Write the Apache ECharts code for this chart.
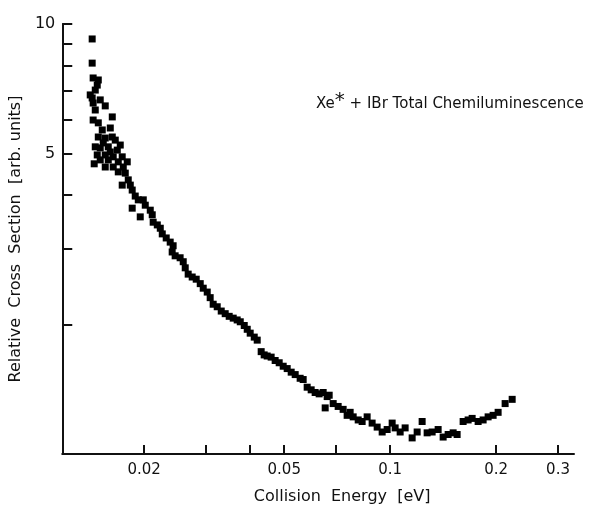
<!DOCTYPE html>
<html>
<head>
<meta charset="utf-8">
<script src="https://cdn.jsdelivr.net/npm/echarts@6/dist/echarts.min.js"></script>
<style>
html, body { margin: 0; padding: 0; background: #fff; }
#chart { width: 594px; height: 510px; }
</style>
</head>
<body>
<div id="chart"></div>
<script>
// collision energy [eV] / relative cross section
// near threshold (dense cluster)
var nearX = [0.01423, 0.01423, 0.01432, 0.01481, 0.01471, 0.01452, 0.01405, 0.01423, 0.01432, 0.0150,
	0.0155, 0.01452, 0.01623, 0.01432, 0.01481, 0.01602, 0.0152, 0.01481, 0.0155, 0.01623,
	0.0153, 0.01655, 0.01452, 0.0150, 0.01581, 0.01677, 0.0171, 0.01602, 0.01471, 0.0155,
	0.01633, 0.01732, 0.0150, 0.01581, 0.01688, 0.0179, 0.01442, 0.0155, 0.01633, 0.01744];
var nearY = [9.23, 8.11, 7.49, 7.41, 7.21, 7.02, 6.84, 6.73, 6.55, 6.66,
	6.45, 6.31, 6.08, 5.98, 5.89, 5.73, 5.67, 5.46, 5.43, 5.46,
	5.29, 5.37, 5.18, 5.15, 5.18, 5.09, 5.23, 5.04, 4.96, 4.96,
	4.91, 4.91, 4.83, 4.83, 4.78, 4.78, 4.73, 4.65, 4.65, 4.65];

// falling part
var fallX = [0.01688, 0.01767, 0.01802, 0.01732, 0.01826, 0.01849, 0.01886, 0.01924, 0.01988, 0.01849,
	0.01949, 0.02014, 0.02081, 0.02108, 0.02121, 0.02179, 0.02222, 0.02251, 0.0231, 0.02371,
	0.02417, 0.02402, 0.02449, 0.0253, 0.02582, 0.02616, 0.02667, 0.02738, 0.02811, 0.02886,
	0.02943, 0.03021, 0.0308, 0.03141, 0.03225, 0.03311, 0.03398, 0.03488, 0.03581, 0.03675,
	0.0375, 0.03849, 0.03925, 0.04002, 0.04109, 0.0419, 0.0430, 0.04385, 0.04472, 0.0459,
	0.04712, 0.04838, 0.04966, 0.05098, 0.05233, 0.05372, 0.05549, 0.0566, 0.0581, 0.05964,
	0.06121, 0.06284, 0.06451, 0.06622, 0.06537, 0.0671, 0.06888, 0.07116, 0.07352, 0.07547,
	0.07697, 0.07851, 0.08113, 0.08325, 0.08602, 0.08887, 0.09185, 0.09491, 0.09806];
var fallY = [4.53, 4.50, 4.34, 4.22, 4.22, 4.11, 3.98, 3.90, 3.90, 3.73,
	3.56, 3.79, 3.69, 3.60, 3.46, 3.41, 3.35, 3.25, 3.18, 3.11,
	3.05, 2.95, 2.89, 2.86, 2.80, 2.71, 2.62, 2.58, 2.55, 2.49,
	2.43, 2.38, 2.31, 2.23, 2.20, 2.15, 2.12, 2.09, 2.07, 2.05,
	2.03, 1.99, 1.95, 1.91, 1.87, 1.84, 1.73, 1.70, 1.69, 1.68,
	1.65, 1.63, 1.60, 1.58, 1.55, 1.53, 1.50, 1.49, 1.43, 1.41,
	1.39, 1.38, 1.39, 1.36, 1.28, 1.37, 1.31, 1.29, 1.27, 1.23,
	1.25, 1.22, 1.20, 1.19, 1.22, 1.18, 1.155, 1.125, 1.14];

// minimum and rise
var riseX = [0.10132, 0.10332, 0.10676, 0.1103, 0.11548, 0.11932, 0.12328, 0.12738, 0.13162, 0.13689,
	0.14144, 0.14614, 0.15101, 0.155, 0.1612, 0.16656, 0.171, 0.17783, 0.18374, 0.18985,
	0.19616, 0.20268, 0.21219, 0.2222];
var riseY = [1.18, 1.15, 1.125, 1.15, 1.09, 1.125, 1.19, 1.12, 1.125, 1.14,
	1.095, 1.11, 1.12, 1.11, 1.19, 1.20, 1.21, 1.19, 1.20, 1.22,
	1.23, 1.25, 1.31, 1.34];

// axes
var xTicks = [0.02, 0.03, 0.04, 0.05, 0.07, 0.1, 0.2, 0.3];
var xLabels = [0.02, 0.05, 0.1, 0.2, 0.3];
var yTicks = [2, 3, 4, 5, 6, 7, 8, 9, 10];
var yLabels = [5, 10];

var points = [];
[[nearX, nearY], [fallX, fallY], [riseX, riseY]].forEach(function(s) {
	for (var i = 0; i < s[0].length; i++) {
		points.push([s[0][i], s[1][i]]);
	}
});

var ink = '#111';
var font = 'DejaVu Sans';

var chart = echarts.init(document.getElementById('chart'));
var option = {
	backgroundColor: '#fff',
	animation: false,
	title: {
		text: '{a|Xe}{s|*}{a| + IBr Total Chemiluminescence}',
		left: 311,
		top: 86,
		textStyle: {
			fontWeight: 'normal',
			rich: {
				a: { fontFamily: font, fontSize: 15, fontWeight: 'normal', color: ink },
				s: { fontFamily: font, fontSize: 20, fontWeight: 'normal', color: ink, padding: [0, 0, 6, 0] }
			}
		}
	},
	grid: {
		left: 62,
		right: 20,
		top: 24,
		bottom: 56
	},
	xAxis: {
		type: 'log',
		logBase: 10,
		min: 0.0117,
		max: 0.333,
		name: 'Collision  Energy  [eV]',
		nameLocation: 'middle',
		nameGap: 35,
		nameTextStyle: { fontFamily: font, fontSize: 16, color: ink, padding: [0, 0, 0, 48] },
		axisLine: { lineStyle: { color: ink, width: 2 } },
		axisTick: { inside: true, length: 9, customValues: xTicks, lineStyle: { color: ink, width: 2 } },
		axisLabel: {
			customValues: xLabels,
			margin: 9,
			fontFamily: font,
			fontSize: 15,
			color: ink,
			formatter: function(v) { return String(+(+v).toPrecision(3)); }
		},
		minorTick: { show: false },
		splitLine: { show: false }
	},
	yAxis: {
		type: 'log',
		logBase: 10,
		min: 1,
		max: 10,
		name: 'Relative  Cross  Section  [arb. units]',
		nameLocation: 'middle',
		nameRotate: 90,
		nameGap: 37,
		nameTextStyle: { fontFamily: font, fontSize: 16, color: ink },
		axisLine: { lineStyle: { color: ink, width: 2 } },
		axisTick: { inside: true, length: 10, customValues: yTicks, lineStyle: { color: ink, width: 2 } },
		axisLabel: {
			customValues: yLabels,
			margin: 7,
			fontFamily: font,
			fontSize: 16,
			color: ink,
			formatter: function(v) { return String(Math.round(v)); }
		},
		minorTick: { show: false },
		splitLine: { show: false }
	},
	series: [{
		type: 'scatter',
		symbol: 'rect',
		symbolSize: 7,
		itemStyle: { color: '#000', opacity: 1 },
		data: points
	}]
};
chart.setOption(option);
</script>
</body>
</html>
